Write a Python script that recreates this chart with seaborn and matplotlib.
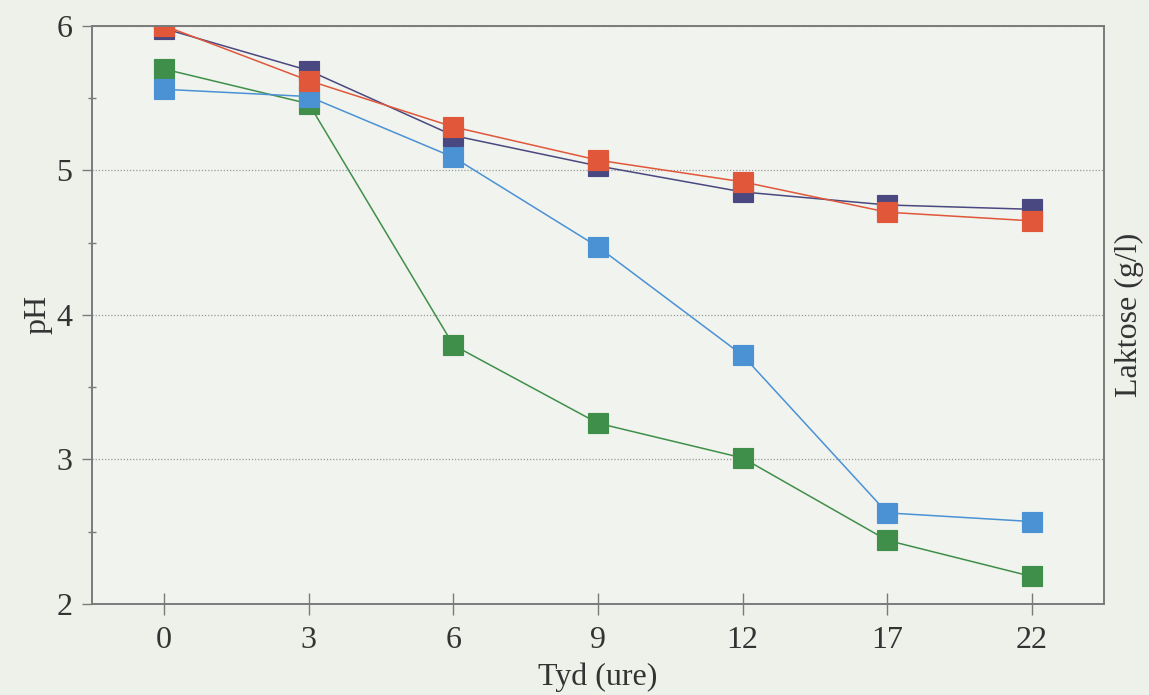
import seaborn as sns
from matplotlib import pyplot as plt
from matplotlib.ticker import MultipleLocator
import pandas as pd

sns.set_style('white')
plt.rcParams['font.family'] = ['Liberation Serif', 'DejaVu Serif']

# sampling times (hours)
hours = ['0', '3', '6', '9', '12', '17', '22']

# pH per culture
ph_green = [5.70, 5.46, 3.79, 3.25, 3.01, 2.44, 2.19]
ph_blue = [5.56, 5.51, 5.09, 4.47, 3.72, 2.63, 2.57]
ph_navy = [5.98, 5.69, 5.24, 5.03, 4.85, 4.76, 4.73]
ph_orange = [6.00, 5.62, 5.30, 5.07, 4.92, 4.71, 4.65]

series = {'green': ph_green, 'blue': ph_blue, 'navy': ph_navy, 'orange': ph_orange}
colors = {'green': '#3f8f4a', 'blue': '#4a92d4', 'navy': '#4a4880', 'orange': '#e0573a'}

rows = []
for name, vals in series.items():
    for h, v in zip(hours, vals):
        rows.append({'Tyd': h, 'pH': v, 'reeks': name})
df = pd.DataFrame(rows)

paper = '#eef1ea'
txt = '#333333'
fig = plt.figure(figsize=(11.49, 6.95), dpi=100, facecolor=paper)
ax = fig.add_axes([0.080, 0.131, 0.881, 0.832])
ax.set_facecolor('#f1f3ee')

sns.pointplot(data=df, x='Tyd', y='pH', hue='reeks', order=hours,
              hue_order=list(series), palette=colors, markers='s',
              markersize=14, linewidth=1.1, errorbar=None, legend=False, ax=ax)

ax.set_ylim(2, 6)
ax.set_xlim(-0.5, 6.5)
ax.yaxis.set_major_locator(MultipleLocator(1))
ax.yaxis.set_minor_locator(MultipleLocator(0.5))
ax.grid(axis='y', which='major', color='#999999', linestyle=(0, (1, 1.5)), linewidth=0.9)
ax.set_axisbelow(True)

for s in ax.spines.values():
    s.set_color('#7a7a7a')
    s.set_linewidth(1.2)

ax.tick_params(axis='y', which='major', direction='out', length=7, width=1, color='#7a7a7a',
               labelsize=23, pad=7, labelcolor=txt, left=True)
ax.tick_params(axis='y', which='minor', direction='inout', length=6, width=1, color='#7a7a7a', left=True)
ax.tick_params(axis='x', which='major', direction='inout', length=16, width=1, color='#7a7a7a',
               labelsize=23, pad=8, labelcolor=txt, bottom=True)

ax.set_xlabel('Tyd (ure)', fontsize=23, color=txt, labelpad=5)
ax.set_ylabel('pH', fontsize=23, color=txt, labelpad=3)

ax2 = ax.twinx()
ax2.set_yticks([])
ax2.set_ylabel('Laktose (g/l)', fontsize=23, color=txt, labelpad=8)
for s in ax2.spines.values():
    s.set_color('#7a7a7a')
    s.set_linewidth(1.2)

plt.savefig('out.png', dpi=100, facecolor=paper)
